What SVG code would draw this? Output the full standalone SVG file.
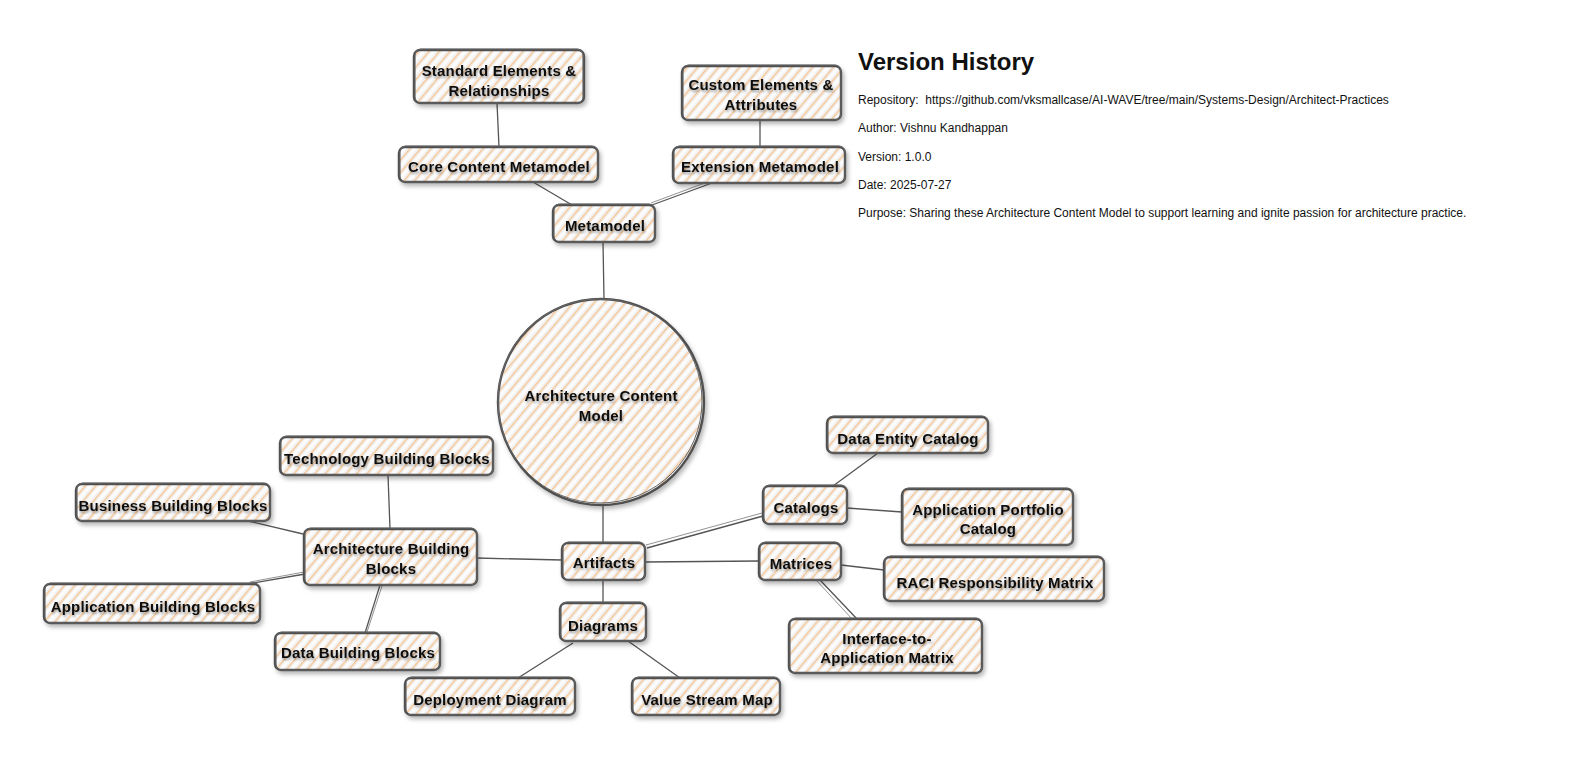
<svg xmlns="http://www.w3.org/2000/svg" width="1595" height="764" viewBox="0 0 1595 764">
  <defs>
    <pattern id="hatch" patternUnits="userSpaceOnUse" width="8" height="8" patternTransform="rotate(40)">
      <rect x="0" y="0" width="8" height="8" fill="#f1f1f1"/>
      <rect x="4" y="0" width="3" height="8" fill="#fcfcfc"/>
      <rect x="1" y="0" width="1.4" height="8" fill="#f7c593"/>
    </pattern>
    <filter id="shadow" x="-20%" y="-20%" width="140%" height="150%">
      <feDropShadow dx="2" dy="3" stdDeviation="2" flood-color="#000" flood-opacity="0.28"/>
    </filter>
    <filter id="tshadow" x="-10%" y="-30%" width="120%" height="180%">
      <feDropShadow dx="1" dy="2" stdDeviation="1.2" flood-color="#000" flood-opacity="0.35"/>
    </filter>
  </defs>
  <style>
    .box { fill: url(#hatch); stroke: #505050; stroke-width: 2.4; filter: url(#shadow); }
    .sk { fill: none; stroke: #666; stroke-width: 1; }
    .lbl { font-family: "Liberation Sans", Arial, sans-serif; font-weight: bold; font-size: 15px; letter-spacing: 0.2px; fill: #111; text-anchor: middle; filter: url(#tshadow); }
    .conn line { stroke: #555; stroke-width: 1.3; fill: none; }
    .conn .thin { stroke-width: 0.8; stroke: #777; }
    .info { font-family: "Liberation Sans", Arial, sans-serif; fill: #111; }
    .info .title { font-size: 24px; font-weight: bold; }
    .info .line { font-size: 12px; }
  </style>
  <rect width="1595" height="764" fill="#ffffff"/>

  <g id="connectors" class="conn">
    <line x1="497" y1="103" x2="499" y2="147"/>
    <line x1="760" y1="120" x2="760" y2="147"/>
    <line x1="533" y1="182" x2="572" y2="205"/>
    <line x1="712" y1="183" x2="652" y2="205"/>
    <line class="thin" x1="710" y1="181" x2="651" y2="203"/>
    <line x1="603" y1="242" x2="604" y2="299"/>
    <line x1="603" y1="505" x2="603" y2="543"/>
    <line x1="388" y1="475" x2="390" y2="529"/>
    <line x1="248" y1="521" x2="303" y2="534"/>
    <line x1="247" y1="584" x2="305" y2="574"/>
    <line class="thin" x1="250" y1="582" x2="304" y2="572"/>
    <line x1="380" y1="585" x2="365" y2="633"/>
    <line class="thin" x1="382" y1="586" x2="367" y2="632"/>
    <line x1="477" y1="558" x2="562" y2="560"/>
    <line x1="603" y1="580" x2="603" y2="603"/>
    <line x1="573" y1="643" x2="518" y2="678"/>
    <line x1="628" y1="641" x2="680" y2="678"/>
    <line x1="645" y1="562" x2="759" y2="561"/>
    <line x1="647" y1="548" x2="763" y2="516"/>
    <line class="thin" x1="646" y1="545" x2="762" y2="513"/>
    <line x1="833" y1="486" x2="878" y2="453"/>
    <line x1="847" y1="508" x2="902" y2="512"/>
    <line x1="841" y1="565" x2="884" y2="570"/>
    <line x1="820" y1="580" x2="857" y2="619"/>
    <line class="thin" x1="817" y1="581" x2="853" y2="620"/>
  </g>

  <g id="node-standard-elements">
    <rect class="box" x="414" y="50" width="170" height="53" rx="6"/>
    <rect class="sk" x="415" y="49" width="168" height="54" rx="6"/>
    <text class="lbl" x="499" y="76">Standard Elements &amp;</text>
    <text class="lbl" x="499" y="96">Relationships</text>
  </g>
  <g id="node-custom-elements">
    <rect class="box" x="682" y="66" width="159" height="54" rx="6"/>
    <rect class="sk" x="683" y="65" width="158" height="55" rx="6"/>
    <text class="lbl" x="761" y="90">Custom Elements &amp;</text>
    <text class="lbl" x="761" y="110">Attributes</text>
  </g>
  <g id="node-core-content">
    <rect class="box" x="399" y="147" width="199" height="35" rx="6"/>
    <rect class="sk" x="400" y="146" width="198" height="36" rx="6"/>
    <text class="lbl" x="499" y="172">Core Content Metamodel</text>
  </g>
  <g id="node-extension">
    <rect class="box" x="673" y="147" width="172" height="36" rx="6"/>
    <rect class="sk" x="674" y="146" width="171" height="37" rx="6"/>
    <text class="lbl" x="760" y="172">Extension Metamodel</text>
  </g>
  <g id="node-metamodel">
    <rect class="box" x="553" y="205" width="102" height="37" rx="6"/>
    <rect class="sk" x="554" y="204" width="101" height="38" rx="6"/>
    <text class="lbl" x="605" y="231">Metamodel</text>
  </g>
  <g id="node-acm">
    <circle class="box" cx="601" cy="402" r="103"/>
    <circle class="sk" cx="600" cy="401" r="102"/>
    <text class="lbl" x="601" y="401">Architecture Content</text>
    <text class="lbl" x="601" y="421">Model</text>
  </g>
  <g id="node-technology-bb">
    <rect class="box" x="280" y="437" width="213" height="38" rx="6"/>
    <rect class="sk" x="281" y="436" width="212" height="39" rx="6"/>
    <text class="lbl" x="387" y="464">Technology Building Blocks</text>
  </g>
  <g id="node-business-bb">
    <rect class="box" x="76" y="484" width="194" height="37" rx="6"/>
    <rect class="sk" x="77" y="483" width="193" height="38" rx="6"/>
    <text class="lbl" x="173" y="511">Business Building Blocks</text>
  </g>
  <g id="node-architecture-bb">
    <rect class="box" x="304" y="529" width="173" height="56" rx="6"/>
    <rect class="sk" x="305" y="528" width="172" height="57" rx="6"/>
    <text class="lbl" x="391" y="554">Architecture Building</text>
    <text class="lbl" x="391" y="574">Blocks</text>
  </g>
  <g id="node-application-bb">
    <rect class="box" x="44" y="584" width="216" height="39" rx="6"/>
    <rect class="sk" x="45" y="583" width="215" height="40" rx="6"/>
    <text class="lbl" x="153" y="612">Application Building Blocks</text>
  </g>
  <g id="node-data-bb">
    <rect class="box" x="275" y="633" width="165" height="37" rx="6"/>
    <rect class="sk" x="276" y="632" width="164" height="38" rx="6"/>
    <text class="lbl" x="358" y="658">Data Building Blocks</text>
  </g>
  <g id="node-artifacts">
    <rect class="box" x="562" y="543" width="83" height="37" rx="6"/>
    <rect class="sk" x="563" y="542" width="82" height="38" rx="6"/>
    <text class="lbl" x="604" y="568">Artifacts</text>
  </g>
  <g id="node-diagrams">
    <rect class="box" x="560" y="603" width="86" height="38" rx="6"/>
    <rect class="sk" x="561" y="602" width="85" height="39" rx="6"/>
    <text class="lbl" x="603" y="631">Diagrams</text>
  </g>
  <g id="node-deployment">
    <rect class="box" x="405" y="678" width="170" height="37" rx="6"/>
    <rect class="sk" x="406" y="677" width="169" height="38" rx="6"/>
    <text class="lbl" x="490" y="705">Deployment Diagram</text>
  </g>
  <g id="node-value-stream">
    <rect class="box" x="632" y="678" width="148" height="37" rx="6"/>
    <rect class="sk" x="633" y="677" width="147" height="38" rx="6"/>
    <text class="lbl" x="707" y="705">Value Stream Map</text>
  </g>
  <g id="node-data-entity">
    <rect class="box" x="827" y="417" width="161" height="36" rx="6"/>
    <rect class="sk" x="828" y="416" width="160" height="37" rx="6"/>
    <text class="lbl" x="908" y="444">Data Entity Catalog</text>
  </g>
  <g id="node-catalogs">
    <rect class="box" x="763" y="486" width="84" height="38" rx="6"/>
    <rect class="sk" x="764" y="485" width="83" height="39" rx="6"/>
    <text class="lbl" x="806" y="513">Catalogs</text>
  </g>
  <g id="node-app-portfolio">
    <rect class="box" x="902" y="489" width="171" height="56" rx="6"/>
    <rect class="sk" x="903" y="488" width="170" height="57" rx="6"/>
    <text class="lbl" x="988" y="515">Application Portfolio</text>
    <text class="lbl" x="988" y="534">Catalog</text>
  </g>
  <g id="node-matrices">
    <rect class="box" x="759" y="543" width="82" height="37" rx="6"/>
    <rect class="sk" x="760" y="542" width="81" height="38" rx="6"/>
    <text class="lbl" x="801" y="569">Matrices</text>
  </g>
  <g id="node-raci">
    <rect class="box" x="884" y="557" width="220" height="44" rx="6"/>
    <rect class="sk" x="885" y="556" width="219" height="45" rx="6"/>
    <text class="lbl" x="995" y="588">RACI Responsibility Matrix</text>
  </g>
  <g id="node-interface-app">
    <rect class="box" x="789" y="619" width="193" height="54" rx="6"/>
    <rect class="sk" x="790" y="618" width="192" height="55" rx="6"/>
    <text class="lbl" x="887" y="644">Interface-to-</text>
    <text class="lbl" x="887" y="663">Application Matrix</text>
  </g>

  <g id="version-history" class="info">
    <text class="title" x="858" y="70">Version History</text>
    <text class="line" x="858" y="104" xml:space="preserve">Repository:  https://github.com/vksmallcase/AI-WAVE/tree/main/Systems-Design/Architect-Practices</text>
    <text class="line" x="858" y="132">Author: Vishnu Kandhappan</text>
    <text class="line" x="858" y="161">Version: 1.0.0</text>
    <text class="line" x="858" y="189">Date: 2025-07-27</text>
    <text class="line" x="858" y="217">Purpose: Sharing these Architecture Content Model to support learning and ignite passion for architecture practice.</text>
  </g>
</svg>
